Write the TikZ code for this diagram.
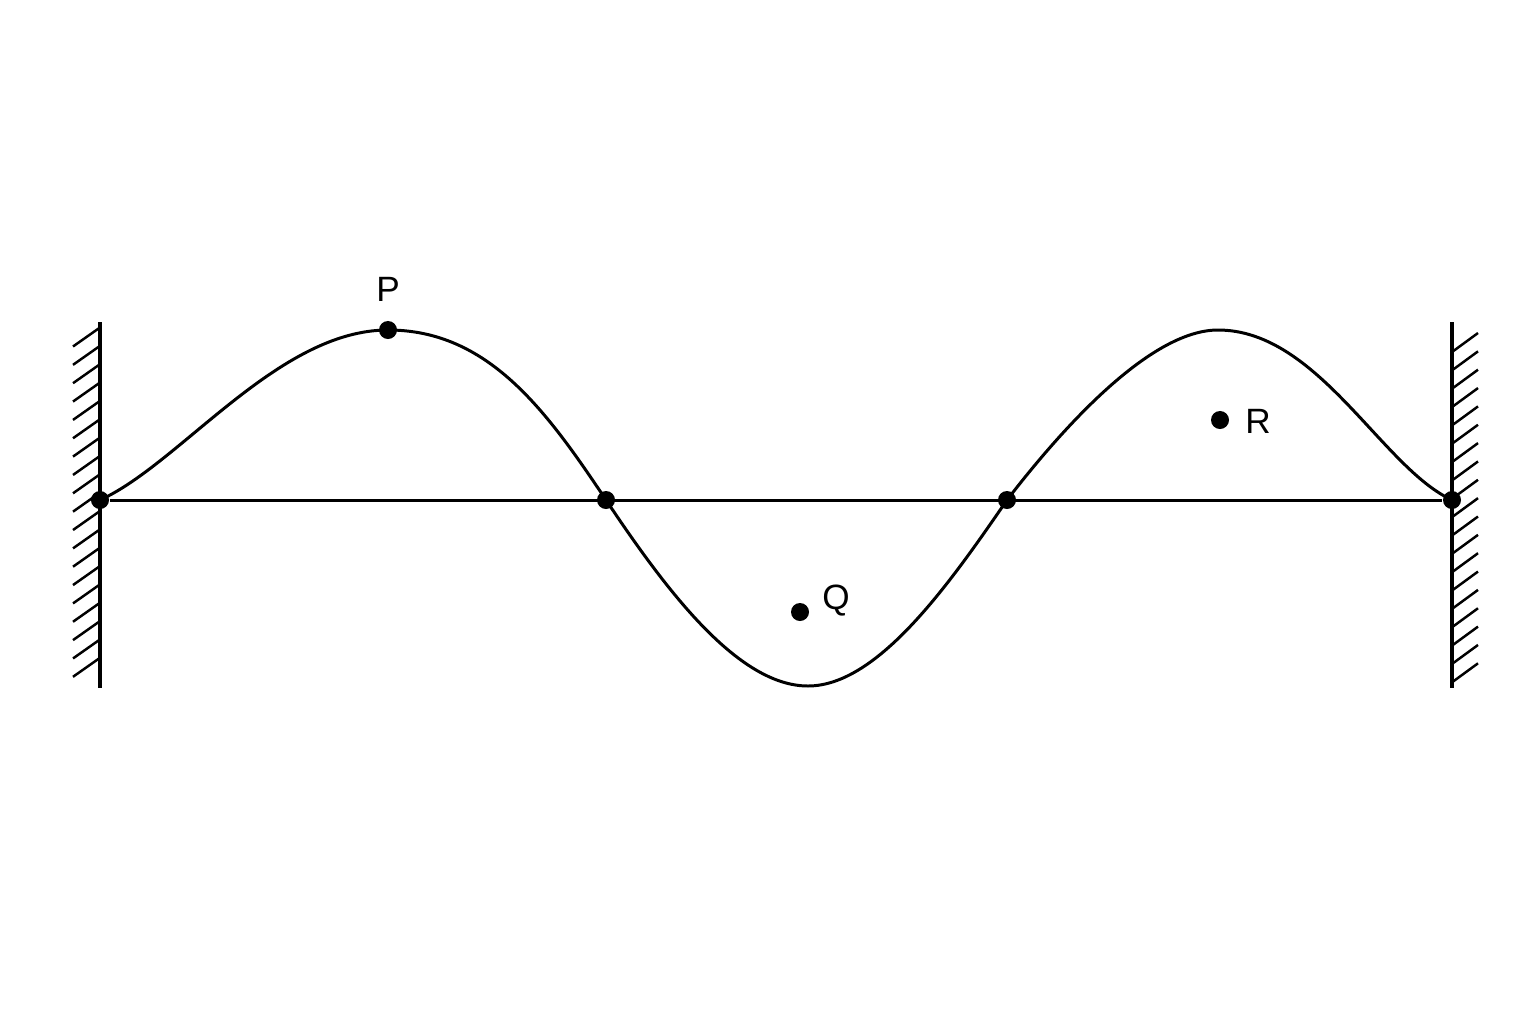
\documentclass[tikz,border=0pt]{standalone}
\usepackage{fontspec}
\setmainfont{Liberation Sans}
\begin{document}
\begin{tikzpicture}[x=0.01cm,y=-0.01cm,
  wall/.style={line width=1.15pt},
  hatch/.style={line width=0.7pt},
  wave/.style={line width=0.85pt},
  base/.style={line width=0.85pt},
  pt/.style={circle,fill=black,inner sep=0pt,minimum size=0.18cm},
  lab/.style={font=\fontsize{10}{12}\selectfont,inner sep=0pt}]
\useasboundingbox (0,0) rectangle (1536,1024);
% walls
\coordinate (LWt) at (100,322);
\coordinate (LWb) at (100,688);
\coordinate (RWt) at (1452,322);
\coordinate (RWb) at (1452,688);
\draw[wall] (LWt) -- (LWb);
\draw[wall] (RWt) -- (RWb);
\foreach \k in {0,...,18}{
  \draw[hatch] (73,{346.5+18.35*\k}) -- (100,{327.5+18.35*\k});
  \draw[hatch] (1452,{352+18.35*\k}) -- (1478,{333+18.35*\k});
}
% nodes on axis
\node[pt] (A) at (100,500) {};
\node[pt] (B) at (606,500) {};
\node[pt] (C) at (1007,500) {};
\node[pt] (D) at (1452,500) {};
\draw[base] (A) -- (D);
% wave
\coordinate (pk1) at (388,330);
\coordinate (tr) at (808,686);
\coordinate (pk2) at (1218,330);
\draw[wave] (A.center) .. controls (180,464) and (278,330) .. (pk1)
  .. controls (488,330) and (546,410) .. (B.center)
  .. controls (666,590) and (738,686) .. (tr)
  .. controls (878,686) and (950,583) .. (C.center)
  .. controls (1057,435) and (1148,330) .. (pk2)
  .. controls (1318,330) and (1382,468) .. (D.center);
% marked points
\node[pt] (P) at (pk1) {};
\node[pt] (Q) at (800,612) {};
\node[pt] (R) at (1220,420) {};
\node[lab] (Pl) at (388,289) {P};
\node[lab] (Ql) at (836,601) {Q};
\node[lab] (Rl) at (1258,421) {R};
\end{tikzpicture}
\end{document}
